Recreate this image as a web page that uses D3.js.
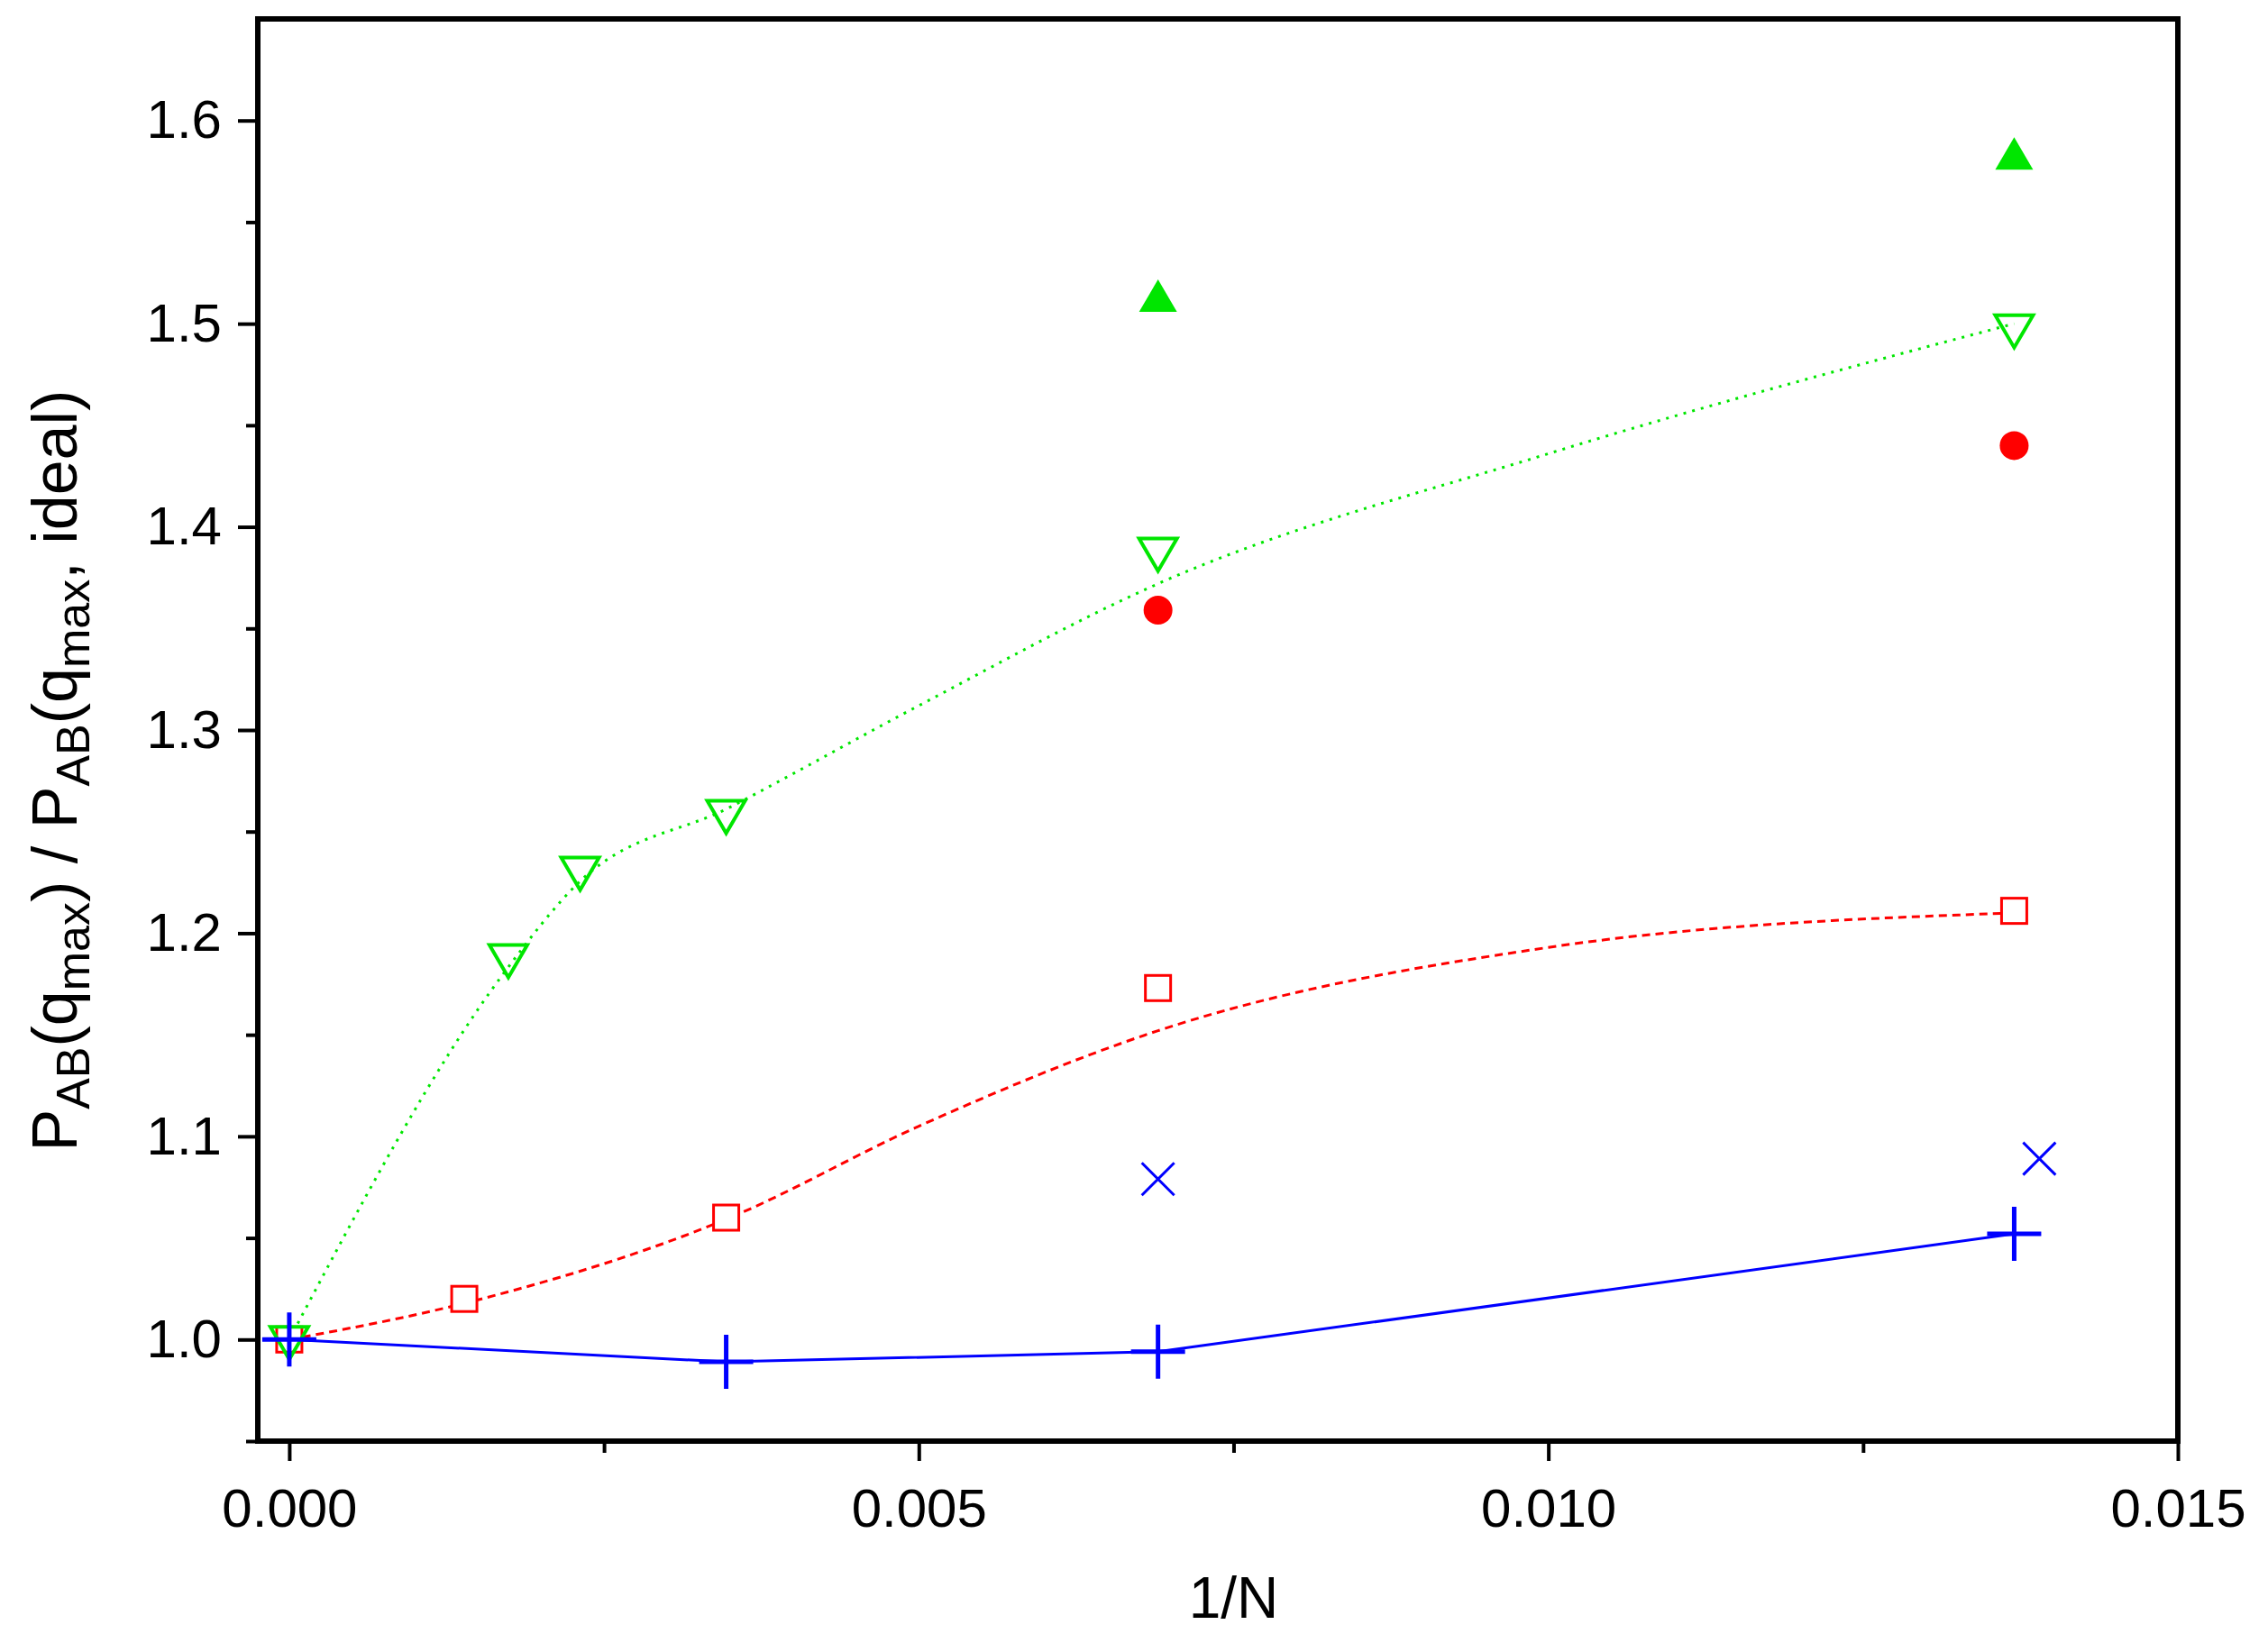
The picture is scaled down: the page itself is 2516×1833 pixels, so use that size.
<!DOCTYPE html>
<html><head><meta charset="utf-8">
<script src="https://cdn.jsdelivr.net/npm/d3@7"></script>
<style>body{margin:0;background:#fff}text{font-family:"Liberation Sans",Arial,sans-serif}</style>
</head><body>
<script>
var canvasWidth = 2516;
var canvasHeight = 1833;
var margin = { top: 21, right: 100, bottom: 234, left: 286 };
var width = canvasWidth - margin.left - margin.right;
var height = canvasHeight - margin.top - margin.bottom;

// open down triangles (green) + dotted fit
var triX = [0, 0.00174, 0.00231, 0.00347, 0.0069, 0.0137];
var triY = [1.0, 1.188, 1.231, 1.259, 1.388, 1.498];
var triFitX = [0, 0.0017, 0.0023, 0.0035, 0.005, 0.0069, 0.010, 0.0137];
var triFitY = [1.0, 1.18, 1.225, 1.262, 1.312, 1.372, 1.436, 1.50];
// open squares (red) + dashed fit
var sqX = [0, 0.00139, 0.00347, 0.0069, 0.0137];
var sqY = [1.0, 1.02, 1.06, 1.173, 1.211];
var sqFitX = [0, 0.0014, 0.0035, 0.005, 0.0069, 0.010, 0.0137];
var sqFitY = [1.0, 1.018, 1.06, 1.105, 1.152, 1.193, 1.21];
// plus (blue) + solid line
var plusX = [0, 0.00347, 0.0069, 0.0137];
var plusY = [1.0, 0.989, 0.994, 1.052];
// crosses (blue)
var crossX = [0.0069, 0.0139];
var crossY = [1.079, 1.089];
// filled circles (red)
var dotX = [0.0069, 0.0137];
var dotY = [1.359, 1.44];
// filled up triangles (green)
var upX = [0.0069, 0.0137];
var upY = [1.512, 1.582];

var xTicks = [0, 0.005, 0.010, 0.015];
var xMinor = [0.0025, 0.0075, 0.0125];
var yTicks = [1.0, 1.1, 1.2, 1.3, 1.4, 1.5, 1.6];
var yMinor = [0.95, 1.05, 1.15, 1.25, 1.35, 1.45, 1.55];

var green = "#00e600", red = "#ff0000", blue = "#0000ff";

var svg = d3.select("body").append("svg")
    .attr("width", canvasWidth)
    .attr("height", canvasHeight);

var xScale = d3.scaleLinear().domain([-0.00025, 0.015]).range([0, width]);
var yScale = d3.scaleLinear().domain([0.95, 1.65]).range([height, 0]);

var g = svg.append("g")
    .attr("transform", "translate(" + margin.left + "," + margin.top + ")");

function zip(xs, ys) { return xs.map((x, i) => [x, ys[i]]); }

// axes
function styleAxis(sel) {
    sel.select(".domain").remove();
    sel.selectAll("line").attr("stroke", "#000").attr("stroke-width", 4);
    sel.selectAll("text").attr("font-size", "60px").attr("fill", "#000");
}
g.append("g").attr("transform", "translate(0," + height + ")")
    .call(d3.axisBottom(xScale).tickValues(xTicks).tickFormat(d3.format(".3f")).tickSize(22).tickPadding(30))
    .call(styleAxis);
g.append("g").attr("transform", "translate(0," + height + ")")
    .call(d3.axisBottom(xScale).tickValues(xMinor).tickFormat("").tickSize(13))
    .call(styleAxis);
g.append("g")
    .call(d3.axisLeft(yScale).tickValues(yTicks).tickFormat(d3.format(".1f")).tickSize(22).tickPadding(18))
    .call(styleAxis);
g.append("g")
    .call(d3.axisLeft(yScale).tickValues(yMinor).tickFormat("").tickSize(13))
    .call(styleAxis);

g.append("rect")
    .attr("width", width).attr("height", height)
    .attr("fill", "none").attr("stroke", "#000").attr("stroke-width", 6);

// fit lines
var line = d3.line().x(d => xScale(d[0])).y(d => yScale(d[1]));
var smooth = d3.line().x(d => xScale(d[0])).y(d => yScale(d[1])).curve(d3.curveMonotoneX);

g.append("path").datum(zip(triFitX, triFitY)).attr("d", smooth)
    .attr("fill", "none").attr("stroke", green).attr("stroke-width", 3).attr("stroke-dasharray", "3,7");
g.append("path").datum(zip(sqFitX, sqFitY)).attr("d", smooth)
    .attr("fill", "none").attr("stroke", red).attr("stroke-width", 3).attr("stroke-dasharray", "9,6");
g.append("path").datum(zip(plusX, plusY)).attr("d", line)
    .attr("fill", "none").attr("stroke", blue).attr("stroke-width", 3);

// markers
g.selectAll(".sq").data(zip(sqX, sqY)).enter().append("rect")
    .attr("x", d => xScale(d[0]) - 14).attr("y", d => yScale(d[1]) - 14)
    .attr("width", 28).attr("height", 28)
    .attr("fill", "#fff").attr("stroke", red).attr("stroke-width", 3);

g.selectAll(".tri").data(zip(triX, triY)).enter().append("path")
    .attr("transform", d => "translate(" + xScale(d[0]) + "," + yScale(d[1]) + ")")
    .attr("d", "M-21,-14L21,-14L0,22Z")
    .attr("fill", "none").attr("stroke", green).attr("stroke-width", 4);

g.selectAll(".up").data(zip(upX, upY)).enter().append("path")
    .attr("transform", d => "translate(" + xScale(d[0]) + "," + yScale(d[1]) + ")")
    .attr("d", "M-21,14L21,14L0,-22Z")
    .attr("fill", green);

g.selectAll(".dot").data(zip(dotX, dotY)).enter().append("circle")
    .attr("cx", d => xScale(d[0])).attr("cy", d => yScale(d[1])).attr("r", 16)
    .attr("fill", red);

g.selectAll(".plus").data(zip(plusX, plusY)).enter().append("path")
    .attr("transform", d => "translate(" + xScale(d[0]) + "," + yScale(d[1]) + ")")
    .attr("d", "M-30,0H30M0,-30V30")
    .attr("stroke", blue).attr("stroke-width", 5);

g.selectAll(".cross").data(zip(crossX, crossY)).enter().append("path")
    .attr("transform", d => "translate(" + xScale(d[0]) + "," + yScale(d[1]) + ")")
    .attr("d", "M-18,-18L18,18M-18,18L18,-18")
    .attr("stroke", blue).attr("stroke-width", 3);

// axis titles
svg.append("text")
    .attr("x", margin.left + xScale(0.0075)).attr("y", 1795)
    .attr("text-anchor", "middle").attr("font-size", "64px")
    .text("1/N");

var yl = svg.append("text")
    .attr("transform", "translate(85," + (margin.top + yScale(1.28)) + ") rotate(-90)")
    .attr("text-anchor", "middle").attr("font-size", "70px");
yl.append("tspan").text("P");
yl.append("tspan").attr("font-size", "52px").attr("dy", 14).text("AB");
yl.append("tspan").attr("dy", -14).text("(q");
yl.append("tspan").attr("font-size", "52px").attr("dy", 14).text("max");
yl.append("tspan").attr("dy", -14).text(") / P");
yl.append("tspan").attr("font-size", "52px").attr("dy", 14).text("AB");
yl.append("tspan").attr("dy", -14).text("(q");
yl.append("tspan").attr("font-size", "52px").attr("dy", 14).text("max");
yl.append("tspan").attr("dy", -14).text(", ideal)");
</script>
</body></html>
